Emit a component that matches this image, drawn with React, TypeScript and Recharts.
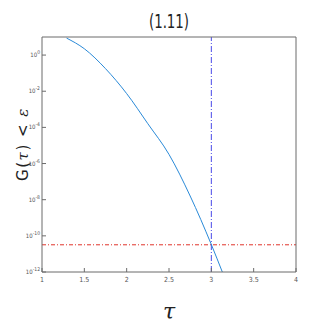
import React from "react";
import {
  LineChart,
  Line,
  XAxis,
  YAxis,
  ReferenceLine,
} from "recharts";

// values (G on a log scale)
const TAU = [1.29, 1.5, 1.75, 2.0, 2.25, 2.5, 2.75, 3.0, 3.13];
const G = [8.7, 2.24, 0.178, 7.4e-3, 1.6e-4, 3.2e-6, 1.6e-8, 3.3e-11, 1e-12];

const X_TICKS = [1, 1.5, 2, 2.5, 3, 3.5, 4];
const Y_TICKS = [1e-12, 1e-10, 1e-8, 1e-6, 1e-4, 1e-2, 1];
const EPSILON = 3.2e-11;
const TAU_STAR = 3;

const chartData = TAU.map((t, i) => ({ tau: t, g: G[i] }));

const AXIS_COLOR = "#6b6b6b";
const TICK_FONT = "'Liberation Sans Narrow', 'DejaVu Sans Condensed', Arial, sans-serif";

const XTick = ({ x, y, payload }: any) => (
  <text
    x={x}
    y={y + 8}
    textAnchor="middle"
    fontSize={7}
    fontFamily={TICK_FONT}
    fill="#555"
  >
    {payload.value}
  </text>
);

const YTick = ({ x, y, payload }: any) => {
  const exp = Math.round(Math.log10(payload.value));
  return (
    <text
      x={x}
      y={y + 2}
      textAnchor="end"
      fontSize={6}
      fontFamily={TICK_FONT}
      fill="#555"
    >
      <tspan>10</tspan>
      <tspan dy={-3} fontSize={5}>
        {exp}
      </tspan>
    </text>
  );
};

export default function App() {
  return (
    <div style={{ position: "fixed", left: 0, top: 0, width: 327, height: 327, background: "#fff" }}>
      <LineChart
        width={327}
        height={327}
        data={chartData}
        margin={{ top: 0, right: 0, bottom: 0, left: 0 }}
      >
        <XAxis
          dataKey="tau"
          type="number"
          domain={[1, 4]}
          ticks={X_TICKS}
          height={55}
          tickSize={-4}
          tickMargin={6}
          tick={<XTick />}
          stroke={AXIS_COLOR}
          allowDataOverflow
        />
        <XAxis
          xAxisId="top"
          orientation="top"
          dataKey="tau"
          type="number"
          domain={[1, 4]}
          ticks={X_TICKS}
          height={37}
          tickSize={-4}
          tick={false}
          stroke={AXIS_COLOR}
        />
        <YAxis
          type="number"
          scale="log"
          domain={[1e-12, 10]}
          ticks={Y_TICKS}
          width={42}
          tickSize={-4}
          tickMargin={6}
          tick={<YTick />}
          stroke={AXIS_COLOR}
          allowDataOverflow
        />
        <YAxis
          yAxisId="right"
          orientation="right"
          type="number"
          scale="log"
          domain={[1e-12, 10]}
          ticks={Y_TICKS}
          width={31}
          tickSize={-4}
          tick={false}
          stroke={AXIS_COLOR}
          allowDataOverflow
        />
        <ReferenceLine
          y={EPSILON}
          stroke="#e0342c"
          strokeWidth={1}
          strokeDasharray="4 2 1 2"
        />
        <ReferenceLine
          x={TAU_STAR}
          stroke="#4a4ae8"
          strokeWidth={1}
          strokeDasharray="6 2 1 2"
        />
        <Line
          type="monotone"
          dataKey="g"
          stroke="#2a8ad8"
          strokeWidth={1}
          dot={false}
          isAnimationActive={false}
        />
      </LineChart>
      <div
        style={{
          position: "absolute",
          left: 169,
          top: 21,
          transform: "translate(-50%, -50%) scaleX(0.78)",
          whiteSpace: "nowrap",
          fontFamily: TICK_FONT,
          fontSize: 19,
          lineHeight: "20px",
          color: "#222",
        }}
      >
        (1.11)
      </div>
      <div
        style={{
          position: "absolute",
          left: 23,
          top: 144,
          transform: "translate(-50%, -50%) rotate(-90deg)",
          whiteSpace: "nowrap",
          fontFamily: "'DejaVu Sans', sans-serif",
          fontSize: 15,
          lineHeight: "16px",
          letterSpacing: 1.5,
          color: "#222",
        }}
      >
        G(<i style={{ fontFamily: "'DejaVu Serif', serif" }}>τ</i>) &lt; <i style={{ fontFamily: "'DejaVu Serif', serif" }}>ε</i>
      </div>
      <div
        style={{
          position: "absolute",
          left: 169,
          top: 312,
          transform: "translate(-50%, -50%)",
          fontFamily: "'DejaVu Serif', serif",
          fontStyle: "italic",
          fontSize: 22,
          lineHeight: "24px",
          color: "#222",
        }}
      >
        τ
      </div>
    </div>
  );
}
